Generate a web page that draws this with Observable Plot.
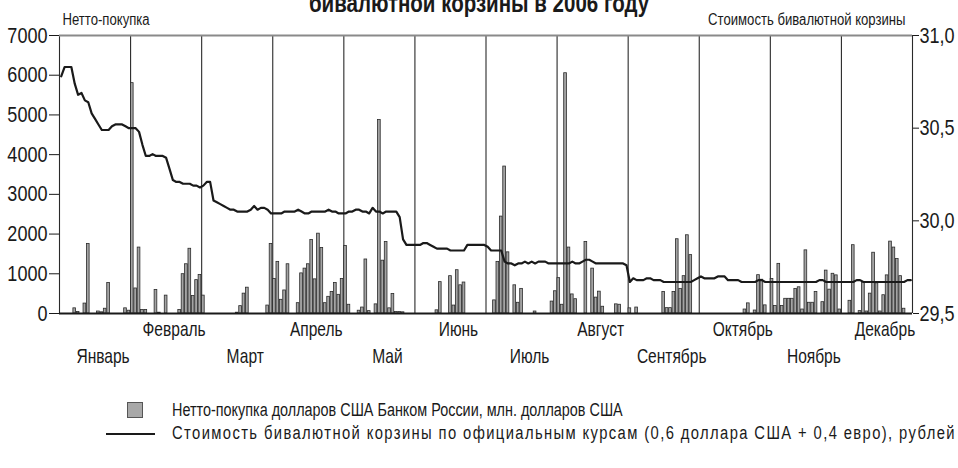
<!DOCTYPE html>
<html><head><meta charset="utf-8">
<script src="https://cdn.jsdelivr.net/npm/d3@7"></script>
<script src="https://cdn.jsdelivr.net/npm/@observablehq/plot@0.6"></script>
<style>
  html,body{margin:0;padding:0;background:#fff;}
  body{width:958px;height:468px;overflow:hidden;position:relative;
       font-family:"Liberation Sans",Arial,sans-serif;color:#1a1a1a;}
  #title{position:absolute;left:0;width:958px;top:-9px;text-align:center;font-weight:bold;font-size:25px;line-height:25px;white-space:nowrap;transform:scaleX(0.82);transform-origin:50% 0;}
  #chart{position:absolute;left:0;top:0;}
  .lg{position:absolute;font-size:18px;line-height:20px;white-space:nowrap;transform-origin:0 0;}
  #lg1{transform:scaleX(0.80);}
  #lg2{transform:scaleX(0.82);letter-spacing:1.7px;}
  #sw{position:absolute;left:127px;top:402px;width:14px;height:14px;background:#a8a8a8;border:1px solid #555;}
  #ln{position:absolute;left:106px;top:433px;width:49px;height:2px;background:#1a1a1a;}
</style>
</head><body>
<div id="title"></div>
<div id="chart"></div>
<div id="sw"></div>
<div id="ln"></div>
<div class="lg" id="lg1" style="left:172px;top:400px;"></div>
<div class="lg" id="lg2" style="left:172px;top:423px;"></div>
<script>
const months = ["Январь","Февраль","Март","Апрель","Май","Июнь","Июль","Август","Сентябрь","Октябрь","Ноябрь","Декабрь"];

// Net purchase of USD by the Bank of Russia, mln USD (trading-day slots per month)
const netJan = [0,0,0,0,130,40,0,250,1750,0,0,50,30,120,770,0,0,0,0,130,70];
const netFeb = [5800,630,1660,90,90,0,0,590,20,0,450,0,0,0,90,990,1240,1630,440,840,970];
const netMar = [450,0,0,0,0,0,0,0,0,0,20,185,500,650,0,0,0,0,0,200,1750];
const netApr = [870,1300,345,580,1240,0,0,260,1010,1130,1240,1850,860,2010,1650,260,420,540,770,470,870];
const netMay = [1700,220,0,0,70,150,1360,60,0,230,4870,1330,1800,130,490,40,40,30,0,0,0];
const netJun = [0,0,0,0,0,0,80,790,0,0,940,200,1090,710,780,0,0,0,0,0,0];
const netJul = [0,0,330,1300,2440,3700,1540,0,710,270,620,0,0,0,50,0,0,0,0,300,560];
const netAug = [890,220,6050,1660,480,360,0,0,1800,0,1130,400,550,170,0,0,0,230,220,0,0];
const netSep = [130,0,150,0,0,0,0,0,0,0,540,135,135,540,1870,620,940,1970,1470,0,0];
const netOct = [0,0,0,0,0,0,0,0,0,0,0,0,0,100,255,0,75,965,850,205,0];
const netNov = [870,190,1250,190,370,370,370,620,660,100,1590,270,270,540,0,285,1080,600,1000,960,100];
const netDec = [0,0,320,1720,0,60,790,50,500,1530,760,50,460,960,1810,1660,1370,940,120,0,0];

// Dual-currency basket value, rubles
const basketJan = [30.78,30.83,30.83,30.83,30.74,30.68,30.69,30.65,30.64,30.58,30.55,30.52,30.49,30.49,30.49,30.51,30.52,30.52,30.52,30.51,30.50];
const basketFeb = [30.50,30.50,30.48,30.41,30.35,30.35,30.36,30.35,30.35,30.35,30.34,30.28,30.22,30.21,30.21,30.20,30.20,30.20,30.19,30.19,30.18];
const basketMar = [30.19,30.21,30.21,30.11,30.10,30.09,30.08,30.07,30.06,30.06,30.05,30.05,30.05,30.05,30.06,30.08,30.06,30.07,30.07,30.06,30.04];
const basketApr = [30.04,30.04,30.04,30.05,30.05,30.05,30.05,30.06,30.05,30.04,30.04,30.05,30.05,30.05,30.05,30.05,30.06,30.05,30.05,30.04,30.04];
const basketMay = [30.04,30.05,30.05,30.06,30.06,30.05,30.05,30.04,30.07,30.05,30.05,30.04,30.05,30.05,30.05,30.05,30.02,29.90,29.87,29.87,29.87];
const basketJun = [29.87,29.87,29.88,29.88,29.87,29.86,29.85,29.85,29.85,29.85,29.84,29.84,29.84,29.84,29.84,29.87,29.87,29.87,29.87,29.87,29.87];
const basketJul = [29.86,29.84,29.84,29.84,29.84,29.78,29.77,29.77,29.76,29.77,29.77,29.78,29.77,29.78,29.77,29.78,29.78,29.78,29.77,29.77,29.77];
const basketAug = [29.77,29.77,29.77,29.77,29.78,29.77,29.77,29.78,29.79,29.79,29.78,29.77,29.77,29.77,29.77,29.77,29.77,29.77,29.77,29.77,29.76];
const basketSep = [29.67,29.69,29.68,29.68,29.68,29.69,29.69,29.68,29.68,29.68,29.67,29.67,29.67,29.67,29.67,29.67,29.67,29.67,29.67,29.68,29.69];
const basketOct = [29.70,29.69,29.69,29.69,29.69,29.70,29.70,29.70,29.68,29.68,29.68,29.68,29.67,29.67,29.67,29.67,29.67,29.68,29.68,29.67,29.67];
const basketNov = [29.67,29.67,29.67,29.67,29.67,29.67,29.67,29.67,29.67,29.67,29.67,29.67,29.67,29.67,29.68,29.68,29.67,29.67,29.67,29.67,29.67];
const basketDec = [29.67,29.67,29.67,29.67,29.68,29.68,29.67,29.67,29.67,29.67,29.67,29.67,29.67,29.67,29.67,29.67,29.67,29.67,29.67,29.68,29.68];

const leftTicks = [0,1000,2000,3000,4000,5000,6000,7000];
const rightTicks = [29.5,30.0,30.5,31.0];

const titleText = "Нетто-покупка долларов США Банком России и динамика стоимости бивалютной корзины в 2006 году";
const titleVisible = "бивалютной корзины в 2006 году";
const leftLabel = "Нетто-покупка";
const rightLabel = "Стоимость бивалютной корзины";
const legendBars = "Нетто-покупка долларов США Банком России, млн. долларов США";
const legendLine = "Стоимость бивалютной корзины по официальным курсам (0,6 доллара США + 0,4 евро), рублей";

// build table
const netByMonth = [netJan,netFeb,netMar,netApr,netMay,netJun,netJul,netAug,netSep,netOct,netNov,netDec];
const basketByMonth = [basketJan,basketFeb,basketMar,basketApr,basketMay,basketJun,basketJul,basketAug,basketSep,basketOct,basketNov,basketDec];
const rows = [];
netByMonth.forEach((arr, m) => {
  const n = arr.length;
  arr.forEach((v, k) => rows.push({m, k, x1: m + k / n, x2: m + (k + 1) / n, pos: m + (k + 0.5) / n, net: v, basket: basketByMonth[m][k]}));
});

const yMax = 7000, bLo = 29.5, bHi = 31.0;
const toLeft = v => (v - bLo) / (bHi - bLo) * yMax;
const fromLeft = d => bLo + d / yMax * (bHi - bLo);

const upperCenters = months.map((_, i) => i + 0.5).filter((_, i) => i % 2 === 1);
const lowerCenters = months.map((_, i) => i + 0.5).filter((_, i) => i % 2 === 0);

const chart = Plot.plot({
  width: 958,
  height: 390,
  marginLeft: 59,
  marginRight: 46,
  marginTop: 35,
  marginBottom: 77,
  x: {domain: [0, 12]},
  y: {domain: [0, yMax]},
  style: {fontFamily: '"Liberation Sans",Arial,sans-serif', fontSize: "22px", color: "#1a1a1a", background: "transparent"},
  marks: [
    Plot.ruleX(d3.range(13), {stroke: "#2a2a2a", strokeWidth: 1.1}),
    Plot.ruleY([yMax], {stroke: "#8a8a8a", strokeWidth: 2}),
    Plot.rectY(rows.filter(d => d.net > 0), {x1: "x1", x2: "x2", y: "net", fill: "#a4a4a4", stroke: "#2a2a2a", strokeWidth: 0.8, insetLeft: 0.35, insetRight: 0.35}),
    Plot.line(rows, {x: "pos", y: d => toLeft(d.basket), stroke: "#1a1a1a", strokeWidth: 2.2, curve: "linear"}),
    Plot.ruleY([0], {stroke: "#1a1a1a", strokeWidth: 2}),
    Plot.axisY(leftTicks, {anchor: "left", tickSize: 10, tickPadding: 2, label: null, fontSize: 22, tickFormat: d => String(d), className: "cond"}),
    Plot.axisY(rightTicks.map(toLeft), {anchor: "right", tickSize: 6, tickPadding: 1, label: null, fontSize: 22, tickFormat: d => fromLeft(d).toFixed(1).replace(".", ","), className: "cond"}),
    Plot.axisX(upperCenters, {anchor: "bottom", tickSize: 0, tickPadding: 8, label: null, fontSize: 21, dx: 8, tickFormat: d => months[Math.floor(d)], className: "months"}),
    Plot.axisX(lowerCenters, {anchor: "bottom", tickSize: 0, tickPadding: 35, label: null, fontSize: 21, dx: 8, tickFormat: d => months[Math.floor(d)], className: "months"}),
    Plot.text([leftLabel], {text: d => d, frameAnchor: "top-left", textAnchor: "start", lineAnchor: "bottom", dx: 3, dy: -11, fontSize: 16, className: "cond"}),
    Plot.text([rightLabel], {text: d => d, frameAnchor: "top-right", textAnchor: "end", lineAnchor: "bottom", dx: -7, dy: -11, fontSize: 16, className: "cond"})
  ]
});
document.getElementById("chart").appendChild(chart);
// condensed look: compress texts horizontally, keeping each anchor
function condense(sel, k) {
  chart.querySelectorAll(sel).forEach(t => {
    const L = t.getComputedTextLength();
    if (L > 0) {
      t.setAttribute("textLength", (L * k).toFixed(2));
      t.setAttribute("lengthAdjust", "spacingAndGlyphs");
    }
  });
}
condense(".cond text", 0.82);
condense(".months text", 0.74);
document.getElementById("title").textContent = titleVisible;
document.getElementById("title").setAttribute("data-full", titleText);
document.getElementById("lg1").textContent = legendBars;
document.getElementById("lg2").textContent = legendLine;
</script>
</body></html>
